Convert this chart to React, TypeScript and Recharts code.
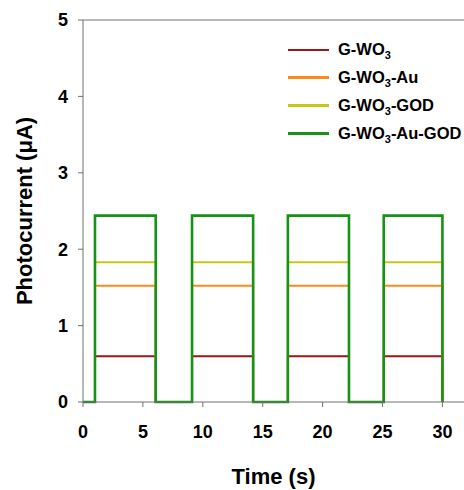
import { Label, Legend, Line, LineChart, ReferenceLine, XAxis, YAxis } from "recharts";

// light on / off switching times (s)
const onTimes = [1, 9.1, 17.1, 25.1];
const offTimes = [6.07, 14.2, 22.2, 30];

const seriesNames = ["G-WO3", "G-WO3-Au", "G-WO3-GOD", "G-WO3-Au-GOD"];
const seriesLevels = [0.6, 1.52, 1.83, 2.44];
const seriesColors = ["#a01414", "#ff8a1c", "#c8c814", "#169216"];
const seriesWidths = [2, 2, 2, 2.6];

const xTicks = [0, 5, 10, 15, 20, 25, 30];
const yTicks = [0, 1, 2, 3, 4, 5];

type Pt = { t: number; v: number };

function squareWave(level: number): Pt[] {
  const pts: Pt[] = [{ t: 0, v: 0 }];
  onTimes.forEach((on, i) => {
    pts.push({ t: on, v: 0 }, { t: on, v: level });
    pts.push({ t: offTimes[i], v: level }, { t: offTimes[i], v: 0 });
  });
  return pts;
}

const font = "Arial, 'Liberation Sans', sans-serif";

function withSub(name: string) {
  const [head, ...rest] = name.split("O3");
  return (
    <>
      {head}O<sub style={{ fontSize: 11, verticalAlign: -4, lineHeight: 0 }}>3</sub>
      {rest.join("O3")}
    </>
  );
}

function LegendBox(props: any) {
  const items = [...(props.payload || [])].sort(
    (a: any, b: any) => seriesNames.indexOf(a.value) - seriesNames.indexOf(b.value)
  );
  return (
    <div
      style={{
        fontFamily: font,
        fontWeight: 700,
        fontSize: 16.5,
        color: "#000",
        whiteSpace: "nowrap",
      }}
    >
      {items.map((it: any) => (
        <div
          key={it.value}
          style={{ display: "flex", alignItems: "center", height: 27.8 }}
        >
          <span
            style={{
              display: "inline-block",
              width: 41,
              height: 2.5,
              background: it.color,
              marginRight: 9,
            }}
          />
          <span>{withSub(it.value)}</span>
        </div>
      ))}
    </div>
  );
}

export default function App() {
  return (
    <div
      style={{
        position: "absolute",
        left: 0,
        top: 0,
        width: 464,
        height: 490,
        overflow: "hidden",
      }}
    >
      <LineChart
        width={464}
        height={490}
        margin={{ top: 20, right: 0, bottom: 0, left: 0 }}
      >
        <XAxis
          type="number"
          dataKey="t"
          domain={[0, 31.8]}
          ticks={xTicks}
          allowDataOverflow
          height={88}
          stroke="#707070"
          tickSize={5}
          tickMargin={18}
          tick={{ fill: "#000", fontSize: 18, fontWeight: 700, fontFamily: font }}
        >
          <Label
            value="Time (s)"
            position="insideBottom"
            offset={6}
            style={{ fill: "#000", fontSize: 22, fontWeight: 700, fontFamily: font }}
          />
        </XAxis>
        <YAxis
          type="number"
          domain={[0, 5]}
          ticks={yTicks}
          width={83}
          stroke="#707070"
          tickSize={5}
          tickMargin={10}
          tick={{ fill: "#000", fontSize: 18, fontWeight: 700, fontFamily: font }}
        >
          <Label
            value="Photocurrent (μA)"
            angle={-90}
            position="insideLeft"
            offset={24}
            style={{
              textAnchor: "middle",
              fill: "#000",
              fontSize: 22,
              fontWeight: 700,
              fontFamily: font,
            }}
          />
        </YAxis>
        <ReferenceLine y={5} stroke="#707070" strokeWidth={1} />
        {seriesNames.map((name, i) => (
          <Line
            key={name}
            name={name}
            data={squareWave(seriesLevels[i])}
            dataKey="v"
            type="linear"
            stroke={seriesColors[i]}
            strokeWidth={seriesWidths[i]}
            dot={false}
            activeDot={false}
            isAnimationActive={false}
          />
        ))}
        <Legend
          layout="vertical"
          align="center"
          verticalAlign="middle"
          content={LegendBox}
          wrapperStyle={{ top: 36, left: 288, width: 180, height: 112 }}
        />
      </LineChart>
    </div>
  );
}
